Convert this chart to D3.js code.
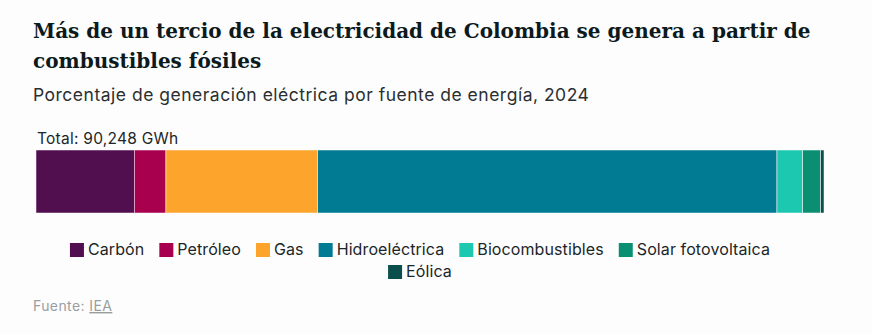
<!DOCTYPE html>
<html lang="es">
<head>
<meta charset="utf-8">
<script src="https://cdn.jsdelivr.net/npm/d3@7"></script>
<style>
  body { margin: 0; background: #fdfdfe; }
  #chart svg { display: block; }
</style>
</head>
<body>
<div id="chart"></div>
<script>
// Data: generación eléctrica de Colombia 2024 (GWh)
const sources = ['Carbón', 'Petróleo', 'Gas', 'Hidroeléctrica', 'Biocombustibles', 'Solar fotovoltaica', 'Eólica'];
const generation = [11254, 3628, 17373, 52606, 2942, 2058, 387];
const colors = ['#510f4f', '#a8004e', '#fda42c', '#017a94', '#1dc8b1', '#0a8f73', '#0b4f4d'];

async function draw() {
  let dimensions = {
    width: 872,
    height: 334,
    barLeft: 36,
    barRight: 824,
    barTop: 150,
    barHeight: 63,
  };

  const total = d3.sum(generation);
  const ends = d3.cumsum(generation);
  const dataset = sources.map((name, i) => ({
    name,
    value: generation[i],
    x0: ends[i] - generation[i],
    x1: ends[i],
    color: colors[i],
  }));

  const svg = d3
    .select('#chart')
    .append('svg')
    .attr('width', dimensions.width)
    .attr('height', dimensions.height);

  // Title + subtitle
  const title = svg
    .append('text')
    .attr('font-family', 'DejaVu Serif')
    .attr('font-weight', 'bold')
    .attr('font-size', 20)
    .attr('fill', '#0d1a1c');
  title.append('tspan').attr('x', 33).attr('y', 38)
    .text('Más de un tercio de la electricidad de Colombia se genera a partir de');
  title.append('tspan').attr('x', 33).attr('y', 68)
    .text('combustibles fósiles');

  svg
    .append('text')
    .attr('x', 33)
    .attr('y', 101)
    .attr('font-family', 'Inter')
    .attr('font-size', 17.5)
    .attr('letter-spacing', 0.5)
    .attr('fill', '#2b2f30')
    .text('Porcentaje de generación eléctrica por fuente de energía, 2024');

  // Scale
  const xScale = d3
    .scaleLinear()
    .domain([0, total])
    .range([dimensions.barLeft, dimensions.barRight]);

  svg
    .append('text')
    .attr('x', 37)
    .attr('y', 144)
    .attr('font-family', 'Inter')
    .attr('font-size', 15.5)
    .attr('letter-spacing', 0.25)
    .attr('fill', '#1b2628')
    .text(`Total: ${d3.format(',')(total)} GWh`);

  // Stacked bar
  svg
    .append('g')
    .selectAll('rect')
    .data(dataset)
    .join('rect')
    .attr('x', (d) => xScale(d.x0))
    .attr('y', dimensions.barTop)
    .attr('width', (d) => xScale(d.x1) - xScale(d.x0))
    .attr('height', dimensions.barHeight)
    .attr('fill', (d) => d.color)
    .attr('stroke', '#fdfdfe')
    .attr('stroke-width', 0.5);

  // Legend, wrapped and centred
  const legend = svg.append('g');
  const items = legend
    .selectAll('g')
    .data(dataset)
    .join('g');
  items
    .append('rect')
    .attr('width', 14)
    .attr('height', 14)
    .attr('y', -12)
    .attr('fill', (d) => d.color);
  items
    .append('text')
    .attr('x', 18)
    .attr('font-family', 'Inter')
    .attr('font-size', 16)
    .attr('letter-spacing', 0.1)
    .attr('fill', '#1b2628')
    .text((d) => d.name);

  const gap = 15;
  const maxRow = 740;
  const centre = 420;
  const rows = [[]];
  let rowWidth = 0;
  items.each(function () {
    const w = this.getBBox().width;
    const row = rows[rows.length - 1];
    const extra = row.length ? gap + w : w;
    if (rowWidth + extra > maxRow && row.length) {
      rows.push([{ node: this, w }]);
      rowWidth = w;
    } else {
      row.push({ node: this, w });
      rowWidth += extra;
    }
  });
  rows.forEach((row, r) => {
    const width = d3.sum(row, (d) => d.w) + gap * (row.length - 1);
    let x = centre - width / 2;
    row.forEach((d) => {
      d3.select(d.node).attr('transform', `translate(${x}, ${255 + r * 22})`);
      x += d.w + gap;
    });
  });

  // Source
  const source = svg
    .append('text')
    .attr('x', 33)
    .attr('y', 311)
    .attr('font-family', 'Inter')
    .attr('font-size', 14)
    .attr('letter-spacing', 0.4)
    .attr('fill', '#9a9d9e');
  source.append('tspan').text('Fuente: ');
  source.append('tspan').attr('text-decoration', 'underline').text('IEA');
}

draw();
</script>
</body>
</html>
